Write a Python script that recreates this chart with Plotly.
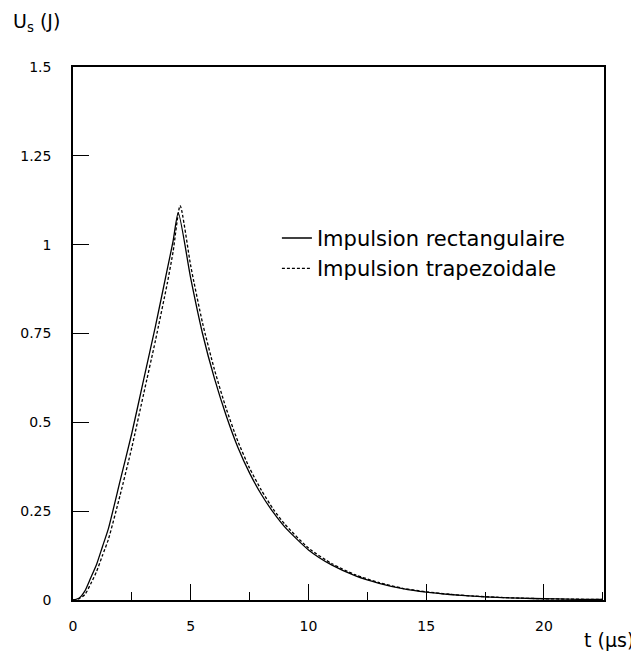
import plotly.graph_objects as go

# Rectangular pulse energy U_s(t) in J, t in microseconds
t_rect = [0, 0.25, 0.5, 0.75, 1.0, 1.25, 1.5, 2.0, 2.5, 3.0, 3.5, 4.0, 4.25, 4.47,
          5.0, 5.5, 6.0, 6.5, 7.0, 7.5, 8.0, 8.5, 9.0, 10, 11, 12, 13, 14, 15,
          16, 17, 18, 19, 20, 21, 22, 22.5]
u_rect = [0, 0.005, 0.025, 0.062, 0.10, 0.15, 0.20, 0.335, 0.47, 0.62, 0.77, 0.93, 1.01, 1.09,
          0.905, 0.75, 0.625, 0.52, 0.43, 0.357, 0.297, 0.247, 0.205, 0.141, 0.098, 0.068, 0.047, 0.032, 0.022,
          0.0155, 0.0107, 0.0074, 0.0051, 0.0035, 0.0024, 0.0017, 0.0014]

# Trapezoidal pulse
t_trap = [0, 0.25, 0.5, 0.75, 1.0, 1.25, 1.5, 2.0, 2.5, 3.0, 3.5, 4.0, 4.25, 4.55,
          5.0, 5.5, 6.0, 6.5, 7.0, 7.5, 8.0, 8.5, 9.0, 10, 11, 12, 13, 14, 15,
          16, 17, 18, 19, 20, 21, 22, 22.5]
u_trap = [0, 0.003, 0.015, 0.045, 0.08, 0.125, 0.17, 0.295, 0.43, 0.58, 0.73, 0.89, 0.98, 1.11,
          0.94, 0.78, 0.65, 0.54, 0.447, 0.371, 0.309, 0.256, 0.213, 0.146, 0.102, 0.0705, 0.049, 0.033, 0.023,
          0.016, 0.011, 0.0077, 0.0053, 0.0036, 0.0025, 0.0018, 0.0015]

x_ticks = [0, 5, 10, 15, 20]
y_ticks = [0, 0.25, 0.5, 0.75, 1, 1.25, 1.5]
y_ticktext = ["0", "0.25", "0.5", "0.75", "1", "1.25", "1.5"]

FONT = "DejaVu Sans"

fig = go.Figure()
fig.add_trace(go.Scatter(x=t_rect, y=u_rect, mode="lines", name="Impulsion rectangulaire",
                         line=dict(color="black", width=1.3, shape="spline", smoothing=0.6)))
fig.add_trace(go.Scatter(x=t_trap, y=u_trap, mode="lines", name="Impulsion trapezoidale",
                         line=dict(color="black", width=1.3, dash="3px,2px", shape="spline", smoothing=0.6)))

fig.update_layout(
    width=631, height=646,
    margin=dict(l=62, r=35, t=59, b=54),
    paper_bgcolor="white", plot_bgcolor="white",
    font=dict(family=FONT, color="black", size=14),
    showlegend=True,
    legend=dict(x=0.384, y=0.717, xanchor="left", yanchor="top",
                font=dict(family=FONT, size=21, color="black"),
                bgcolor="rgba(0,0,0,0)", itemwidth=30, tracegroupgap=0),
    xaxis=dict(range=[0, 22.55], tickvals=x_ticks, ticks="inside", ticklen=16, tickwidth=1,
               tickcolor="black", showline=True, linecolor="black", linewidth=1.5, mirror=True,
               showgrid=False, zeroline=False, ticklabelstandoff=12,
               minor=dict(dtick=2.5, tick0=0, ticks="inside", ticklen=8, tickcolor="black", showgrid=False)),
    yaxis=dict(range=[0, 1.5], tickvals=y_ticks, ticktext=y_ticktext, ticks="inside", ticklen=16,
               tickwidth=1, tickcolor="black", showline=True, linecolor="black", linewidth=1.5,
               mirror=True, showgrid=False, zeroline=False, ticklabelstandoff=17),
    annotations=[
        dict(text="U<sub>s</sub> (J)", xref="paper", yref="paper", x=-0.116, y=1.084,
             xanchor="left", yanchor="middle", showarrow=False, font=dict(family=FONT, size=19)),
        dict(text="t (\u03bcs)", xref="paper", yref="paper", x=1.06, y=-0.075,
             xanchor="right", yanchor="middle", showarrow=False, font=dict(family=FONT, size=19)),
    ],
)

fig.write_html("out.html")
